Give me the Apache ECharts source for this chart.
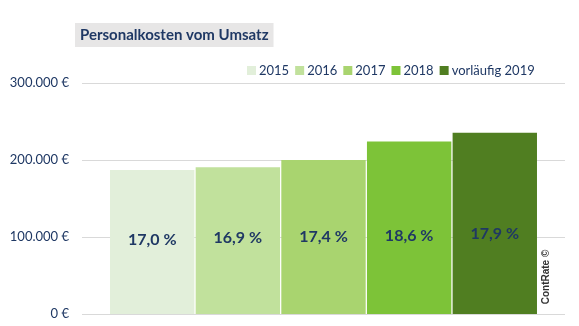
<!DOCTYPE html>
<html>
<head>
<meta charset="utf-8">
<script src="https://cdn.jsdelivr.net/npm/echarts@6/dist/echarts.min.js"></script>
<style>html,body{margin:0;padding:0;background:#fff}#c{width:579px;height:326px}</style>
</head>
<body>
<div id="c"></div>
<script>
const titleText = 'Personalkosten vom Umsatz';
const years = ['2015', '2016', '2017', '2018', 'vorläufig 2019'];
const costs = [187000, 190500, 200000, 224000, 235500];
const ratios = [17.0, 16.9, 17.4, 18.6, 17.9];
const yTicks = [0, 100000, 200000, 300000];

const colors = ['#E2EFDA', '#C1E19C', '#A9D46F', '#7DC338', '#507E21'];
const labelShift = [-2, -3, 0, 8, 11];
const navy = '#1F3864';

const chart = echarts.init(document.getElementById('c'), null, {renderer: 'canvas'});
const fmtEuro = v => (v === 0 ? '0' : String(v).replace(/\B(?=(\d{3})+(?!\d))/g, '.')) + ' €';

chart.setOption({
  animation: false,
  backgroundColor: '#ffffff',
  textStyle: {fontFamily: 'Lato'},
  title: {
    text: titleText,
    left: 75, top: 23,
    backgroundColor: '#E7E6E6',
    padding: [4, 5, 4, 5],
    textStyle: {fontFamily: 'Lato', fontSize: 15, fontWeight: 'bold', color: navy, lineHeight: 16}
  },
  legend: {
    left: 247, top: 64, padding: 0,
    icon: 'rect', itemWidth: 9, itemHeight: 9, itemGap: 6,
    textStyle: {fontFamily: 'Lato', fontSize: 13, color: navy, padding: [0, 0, 0, -2]},
    data: years
  },
  grid: {left: 82, right: 14, top: 83, bottom: 12, containLabel: false},
  xAxis: {
    type: 'category', data: [''],
    axisLine: {show: false}, axisTick: {show: false}, axisLabel: {show: false}
  },
  yAxis: {
    type: 'value', min: yTicks[0], max: yTicks[yTicks.length - 1], interval: yTicks[1] - yTicks[0],
    axisLine: {show: false}, axisTick: {show: false},
    splitLine: {lineStyle: {color: '#D9D9D9', width: 1}},
    axisLabel: {formatter: fmtEuro, color: navy, fontFamily: 'Lato', fontSize: 13, margin: 13}
  },
  graphic: [{
    type: 'text', x: 546, y: 277, rotation: Math.PI / 2,
    style: {text: 'ContRate ©', fontFamily: 'Liberation Sans', fontSize: 10, fontWeight: 'bold', fill: '#333', align: 'center', verticalAlign: 'middle'}
  }],
  series: years.map((y, i) => ({
    name: y, type: 'bar',
    data: [costs[i]],
    barGap: '1.5%', barCategoryGap: '11.6%',
    itemStyle: {color: colors[i]},
    label: {
      show: true, position: 'inside', offset: [0, labelShift[i]],
      formatter: () => ratios[i].toFixed(1).replace('.', ',') + ' %',
      fontFamily: 'Lato', fontSize: 16, fontWeight: 'bold', color: navy
    }
  }))
});
</script>
</body>
</html>
